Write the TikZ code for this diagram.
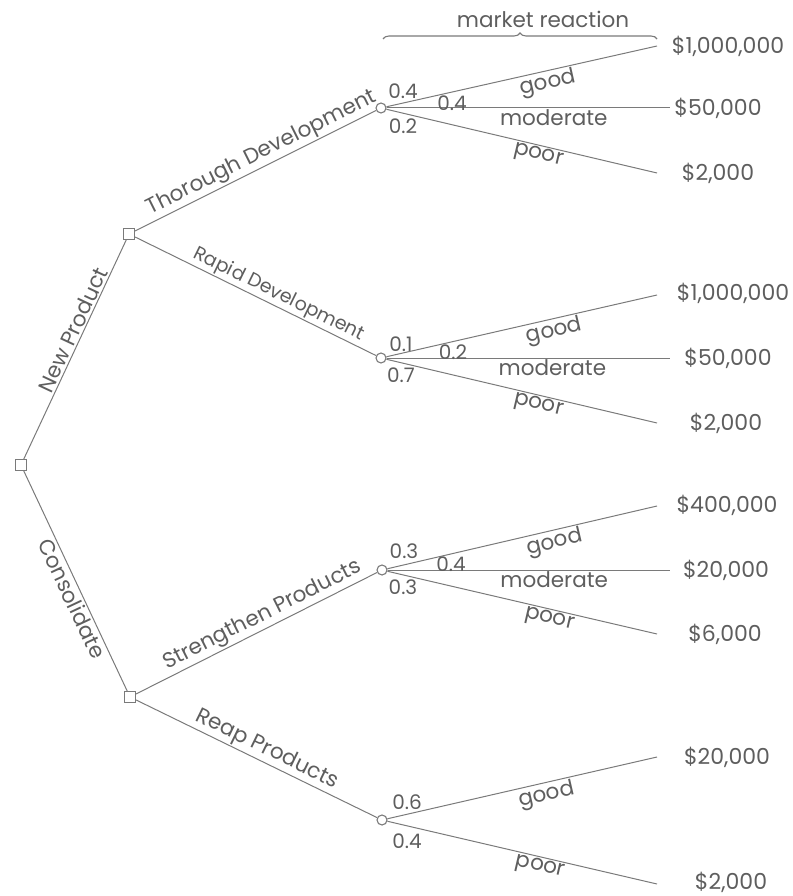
\documentclass[tikz,border=0pt]{standalone}
\usepackage{fontspec}
\setmainfont{Poppins}
\usetikzlibrary{decorations.pathreplacing}
\definecolor{ink}{HTML}{7A7A7A}
\definecolor{txt}{HTML}{5E5E5E}
\begin{document}
\begin{tikzpicture}[x=1pt,y=-1pt,
  lbl/.style={text=txt, font=\fontsize{21.5}{23}\selectfont, inner sep=1.5pt},
  prob/.style={text=txt, font=\fontsize{20}{22}\selectfont, inner sep=0pt},
  val/.style={text=txt, font=\fontsize{22}{24}\selectfont, inner sep=0pt},
  decision/.style={draw=ink, rectangle, minimum size=11pt, inner sep=0pt, line width=1.1pt},
  chance/.style={draw=ink, circle, minimum size=10pt, inner sep=0pt, line width=1.1pt},
  branch/.style={draw=ink, line width=1.0pt},
]
\useasboundingbox (0,0) rectangle (792,896);

% decision and chance nodes
\node[decision] (root) at (21,465) {};
\node[decision] (dnew) at (129,234) {};
\node[decision] (dcon) at (130,697) {};
\node[chance] (cthor) at (381,108) {};
\node[chance] (crap)  at (381,358) {};
\node[chance] (cstr)  at (382,570) {};
\node[chance] (creap) at (382,820) {};

% outcome line ends
\coordinate (t1) at (657,46);  \coordinate (t2) at (670,108); \coordinate (t3) at (657,173);
\coordinate (r1) at (657,295); \coordinate (r2) at (670,358); \coordinate (r3) at (657,423);
\coordinate (s1) at (657,506); \coordinate (s2) at (670,570); \coordinate (s3) at (657,634);
\coordinate (p1) at (657,757); \coordinate (p3) at (657,884);

% decisions
\draw[branch] (root) -- node[lbl, sloped, above, pos=0.57] {New Product} (dnew);
\draw[branch] (root) -- node[lbl, sloped, below, pos=0.56] {Consolidate} (dcon);
\draw[branch] (dnew) -- node[lbl, sloped, above, pos=0.55] {Thorough Development} (cthor);
\draw[branch] (dnew) -- node[lbl, sloped, above, pos=0.575, font=\fontsize{19}{21}\selectfont] {Rapid Development} (crap);
\draw[branch] (dcon) -- node[lbl, sloped, above, pos=0.55] {Strengthen Products} (cstr);
\draw[branch] (dcon) -- node[lbl, sloped, above, pos=0.52] {Reap Products} (creap);

% market outcomes
\draw[branch] (cthor) -- node[lbl, sloped, below, pos=0.587] {good} (t1);
\draw[branch] (cthor) -- node[lbl, sloped, below, pos=0.59] {moderate} (t2);
\draw[branch] (cthor) -- node[lbl, sloped, below, pos=0.57] {poor} (t3);
\draw[branch] (crap) -- node[lbl, sloped, below, pos=0.61] {good} (r1);
\draw[branch] (crap) -- node[lbl, sloped, below, pos=0.585] {moderate} (r2);
\draw[branch] (crap) -- node[lbl, sloped, below, pos=0.57] {poor} (r3);
\draw[branch] (cstr) -- node[lbl, sloped, below, pos=0.61] {good} (s1);
\draw[branch] (cstr) -- node[lbl, sloped, below, pos=0.59] {moderate} (s2);
\draw[branch] (cstr) -- node[lbl, sloped, below, pos=0.61] {poor} (s3);
\draw[branch] (creap) -- node[lbl, sloped, below, pos=0.58] {good} (p1);
\draw[branch] (creap) -- node[lbl, sloped, below, pos=0.575] {poor} (p3);

% probabilities
\node[prob] (pt1) at (403,91) {0.4};  \node[prob] (pt2) at (452,103) {0.4}; \node[prob] (pt3) at (403,126) {0.2};
\node[prob] (pr1) at (401,344) {0.1}; \node[prob] (pr2) at (453,352) {0.2}; \node[prob] (pr3) at (401,375) {0.7};
\node[prob] (ps1) at (404,551) {0.3}; \node[prob] (ps2) at (451,564) {0.4}; \node[prob] (ps3) at (403,587) {0.3};
\node[prob] (pp1) at (407,802) {0.6}; \node[prob] (pp3) at (407,841) {0.4};

% payoffs
\node[val] (vt1) at (728,46)  {\$1,000,000};
\node[val] (vt2) at (718,108) {\$50,000};
\node[val] (vt3) at (718,173) {\$2,000};
\node[val] (vr1) at (733,293) {\$1,000,000};
\node[val] (vr2) at (728,358) {\$50,000};
\node[val] (vr3) at (726,423) {\$2,000};
\node[val] (vs1) at (727,505) {\$400,000};
\node[val] (vs2) at (726,570) {\$20,000};
\node[val] (vs3) at (725,634) {\$6,000};
\node[val] (vp1) at (727,757) {\$20,000};
\node[val] (vp3) at (731,882) {\$2,000};

% brace over the market outcomes
\draw[ink, line width=1.1pt, decorate, decoration={brace, amplitude=6pt}] (383,39) -- (657,39);
\node[lbl] (mr) at (543,19) {market reaction};
\end{tikzpicture}
\end{document}
